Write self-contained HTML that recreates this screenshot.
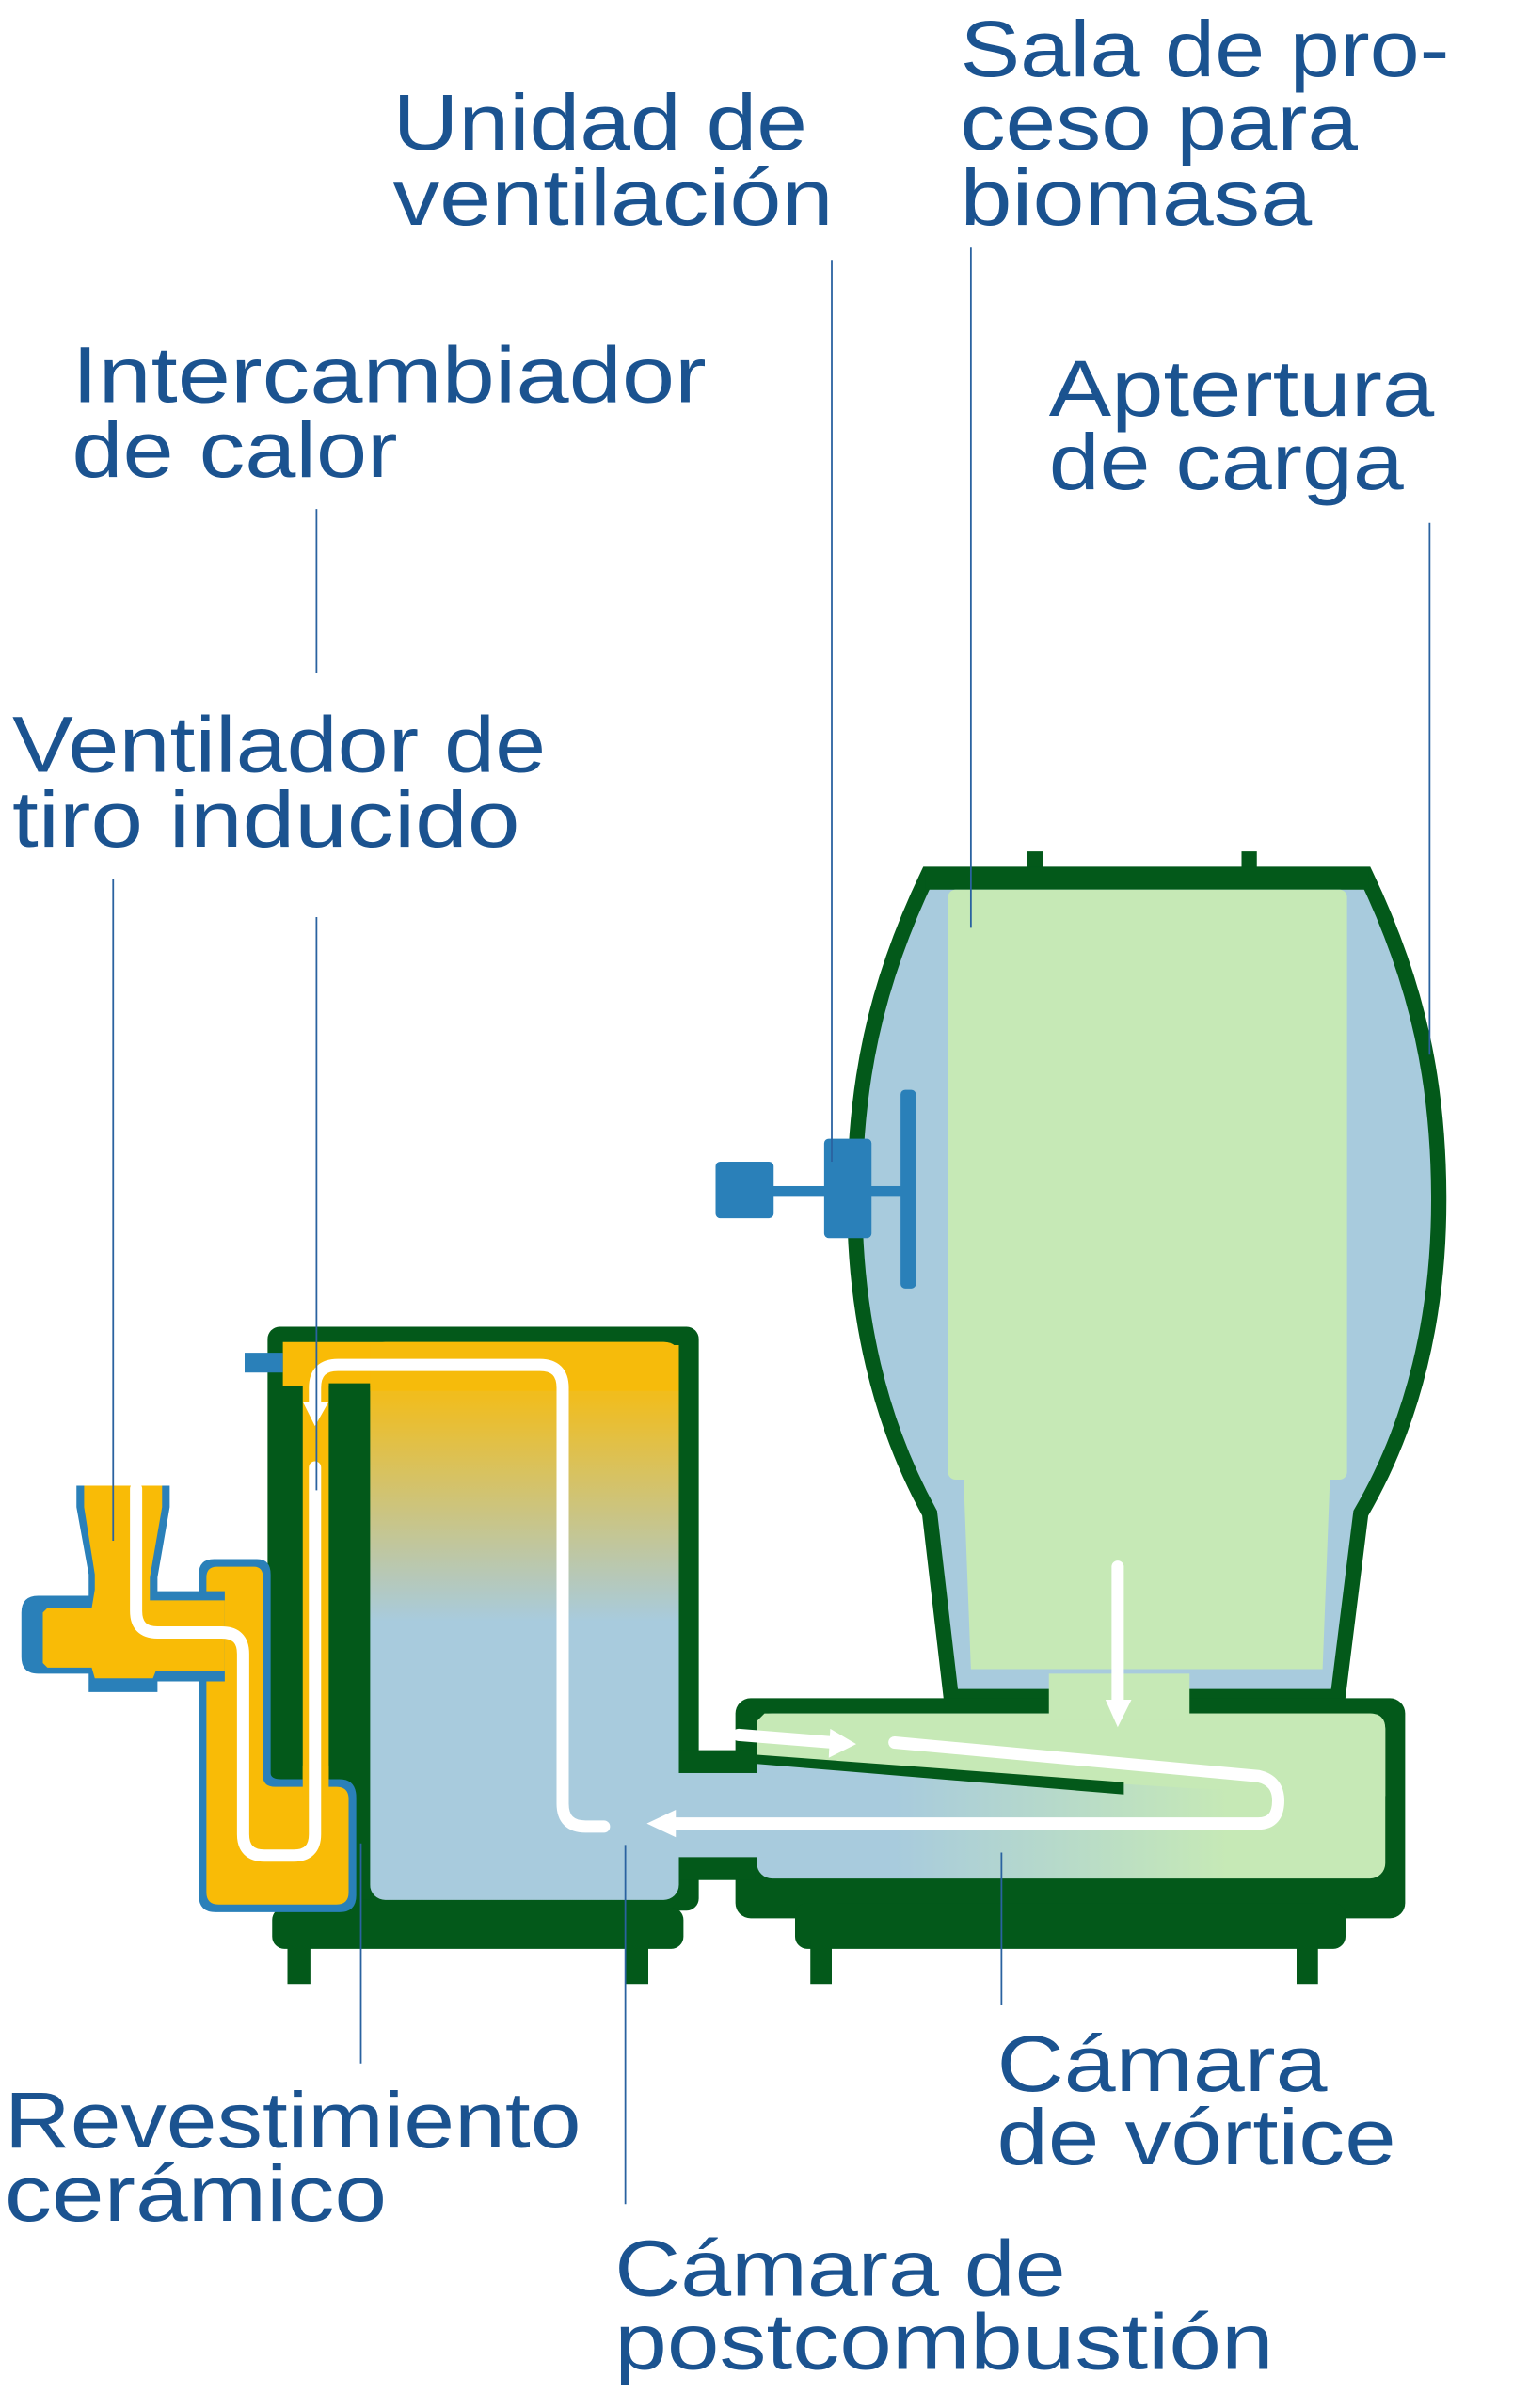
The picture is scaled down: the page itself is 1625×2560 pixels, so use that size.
<!DOCTYPE html>
<html><head><meta charset="utf-8"><style>html,body{margin:0;padding:0;background:#fff}svg{display:block}</style></head>
<body>
<svg width="1625" height="2560" viewBox="0 0 1000 1575.4" xmlns="http://www.w3.org/2000/svg">
<defs>
<linearGradient id="gbox" x1="0" y1="0" x2="0" y2="1">
<stop offset="0" stop-color="#f9bb06"/><stop offset="0.1" stop-color="#f0bd20"/><stop offset="0.5" stop-color="#a8cbdd"/><stop offset="1" stop-color="#a8cbdd"/>
</linearGradient>
<linearGradient id="gvor" x1="0" y1="0" x2="1" y2="0">
<stop offset="0" stop-color="#a8cbdd"/><stop offset="0.22" stop-color="#a8cbdd"/><stop offset="0.75" stop-color="#c6e9b6"/><stop offset="1" stop-color="#c6e9b6"/>
</linearGradient>
</defs>
<g fill="#1b5390" font-family="Liberation Sans, sans-serif" font-size="52">
<text x="257" y="98" textLength="271" lengthAdjust="spacingAndGlyphs">Unidad de</text>
<text x="257" y="147" textLength="288" lengthAdjust="spacingAndGlyphs">ventilación</text>
<text x="628" y="50" textLength="320" lengthAdjust="spacingAndGlyphs">Sala de pro-</text>
<text x="628" y="98" textLength="260" lengthAdjust="spacingAndGlyphs">ceso para</text>
<text x="628" y="147" textLength="230" lengthAdjust="spacingAndGlyphs">biomasa</text>
<text x="47" y="263" textLength="415" lengthAdjust="spacingAndGlyphs">Intercambiador</text>
<text x="47" y="312" textLength="213" lengthAdjust="spacingAndGlyphs">de calor</text>
<text x="686" y="272" textLength="252" lengthAdjust="spacingAndGlyphs">Aptertura</text>
<text x="686" y="320" textLength="232" lengthAdjust="spacingAndGlyphs">de carga</text>
<text x="8" y="505" textLength="349" lengthAdjust="spacingAndGlyphs">Ventilador de</text>
<text x="8" y="554" textLength="332" lengthAdjust="spacingAndGlyphs">tiro inducido</text>
<text x="3" y="1405" textLength="377" lengthAdjust="spacingAndGlyphs">Revestimiento</text>
<text x="3" y="1453" textLength="250" lengthAdjust="spacingAndGlyphs">cerámico</text>
<text x="652" y="1368" textLength="216" lengthAdjust="spacingAndGlyphs">Cámara</text>
<text x="652" y="1416" textLength="261" lengthAdjust="spacingAndGlyphs">de vórtice</text>
<text x="402" y="1502" textLength="295" lengthAdjust="spacingAndGlyphs">Cámara de</text>
<text x="402" y="1550" textLength="431" lengthAdjust="spacingAndGlyphs">postcombustión</text>
</g>

<!-- vessel -->
<rect x="672" y="557" width="10" height="18" fill="#03591a"/>
<rect x="812" y="557" width="10" height="18" fill="#03591a"/>
<path d="M607,572 L893,572 C928,645 941,710 941,785 C941,860 925,930 890,990 L875,1110 L622,1110 L608,990 C575,930 559,860 559,785 C559,710 572,645 607,572 Z" fill="#a8cbdd" stroke="#03591a" stroke-width="10"/>
<rect x="605" y="568" width="290" height="14" fill="#03591a"/>
<rect x="620" y="582" width="261" height="386" rx="5" fill="#c6e9b6"/>
<path d="M630,962 L870,962 L865,1092 L635,1092 Z" fill="#c6e9b6"/>

<!-- vortex chamber -->
<rect x="481" y="1111" width="438" height="144" rx="10" fill="#03591a"/>
<rect x="520" y="1245" width="360" height="30" rx="8" fill="#03591a"/>
<rect x="530" y="1270" width="14" height="28" fill="#03591a"/>
<rect x="848" y="1270" width="14" height="28" fill="#03591a"/>
<rect x="495" y="1121" width="411" height="108" rx="10" fill="url(#gvor)"/>
<path d="M500,1121 L896,1121 Q906,1121 906,1131 L906,1175 L780,1170 L495,1152 L495,1126 Z" fill="#c6e9b6"/>
<rect x="686" y="1095" width="92" height="30" fill="#c6e9b6"/>
<polygon points="495,1148 735,1166 735,1174 495,1154" fill="#03591a"/>

<!-- left box -->
<rect x="175" y="868" width="282" height="382" rx="8" fill="#03591a"/>
<rect x="444" y="1145" width="50" height="85" fill="#03591a"/>
<rect x="178" y="1248" width="269" height="27" rx="8" fill="#03591a"/>
<rect x="188" y="1270" width="15" height="28" fill="#03591a"/>
<rect x="409" y="1270" width="15" height="28" fill="#03591a"/>
<rect x="242" y="878" width="202" height="365" rx="10" fill="url(#gbox)"/>
<path d="M185,878 L434,878 Q444,878 444,888 L444,907 L185,907 Z" fill="#f9bb06"/>
<rect x="242" y="880" width="202" height="30" fill="#f6bb0b"/>
<rect x="215" y="905" width="27" height="338" fill="#03591a"/>
<rect x="198" y="905" width="17" height="270" fill="#f9bb06"/>
<rect x="440" y="1160" width="62" height="55" fill="#a8cbdd"/>
<rect x="160" y="885" width="25" height="13" fill="#2a80b9"/>

<!-- pump -->
<path d="M140,1020 L168,1020 Q177,1020 177,1030 L177,1160 Q177,1164 184,1164 L222,1164 Q233,1164 233,1176 L233,1240 Q233,1251 222,1251 L141,1251 Q130,1251 130,1240 L130,1030 Q130,1020 140,1020 Z" fill="#2a80b9"/>
<path d="M142,1025 L166,1025 Q172,1025 172,1032 L172,1162 Q172,1169 180,1169 L220,1169 Q228,1169 228,1177 L228,1238 Q228,1246 220,1246 L143,1246 Q135,1246 135,1238 L135,1032 Q135,1025 142,1025 Z" fill="#f9bb06"/>
<rect x="198" y="1155" width="17" height="20" fill="#f9bb06"/>
<path d="M50,972 L111,972 L111,986 L103,1032 L103,1041 L147,1041 L147,1100 L103,1100 L103,1107 L58,1107 L58,1095 L25,1095 Q14,1095 14,1084 L14,1055 Q14,1044 25,1044 L58,1044 L58,1030 L50,986 Z" fill="#2a80b9"/>
<path d="M55,972 L106,972 L106,986 L98,1032 L98,1047 L147,1047 L147,1093 L102,1093 L100,1098 L62,1098 L60,1091 L31,1091 L28,1088 L28,1055 L31,1052 L60,1052 L62,1040 L62,1030 L55,986 Z" fill="#f9bb06"/>

<!-- ventilation unit -->
<rect x="468" y="760" width="38" height="37" rx="3" fill="#2a80b9"/>
<rect x="505" y="776" width="90" height="7" fill="#2a80b9"/>
<rect x="539" y="745" width="31" height="65" rx="3" fill="#2a80b9"/>
<rect x="589" y="713" width="10" height="130" rx="3" fill="#2a80b9"/>

<!-- white flow lines -->
<g fill="none" stroke="#fff" stroke-width="8" stroke-linecap="round" stroke-linejoin="round">
<path d="M89,974 L89,1054 Q89,1068 103,1068 L145,1068 Q159,1068 159,1082 L159,1200 Q159,1214 173,1214 L192,1214 Q206,1214 206,1200 L206,960"/>
<path d="M206,918 L206,908 Q206,893 221,893 L353,893 Q368,893 368,908 L368,1180 Q368,1195 383,1195 L395,1195"/>
<path d="M585,1140 L823,1162 Q836,1165 836,1178 Q836,1193 823,1193 L440,1193"/>
<path d="M483,1135 L545,1140"/>
<path d="M731,1025 L731,1115"/>
</g>
<polygon points="198,917 215,917 206,933" fill="#fff"/>
<polygon points="442,1184 442,1202 423,1193" fill="#fff"/>
<polygon points="543,1131 560,1141 542,1150" fill="#fff"/>
<polygon points="723,1112 740,1112 731,1130" fill="#fff"/>

<!-- leader lines -->
<g stroke="#2a62a0" stroke-width="1.1">
<line x1="544" y1="170" x2="544" y2="760"/>
<line x1="635" y1="162" x2="635" y2="607"/>
<line x1="207" y1="333" x2="207" y2="440"/>
<line x1="935" y1="342" x2="935" y2="690"/>
<line x1="74" y1="575" x2="74" y2="1008"/>
<line x1="207" y1="600" x2="207" y2="975"/>
<line x1="236" y1="1206" x2="236" y2="1350"/>
<line x1="409" y1="1207" x2="409" y2="1442"/>
<line x1="655" y1="1212" x2="655" y2="1312"/>
</g>
</svg>
</body></html>
